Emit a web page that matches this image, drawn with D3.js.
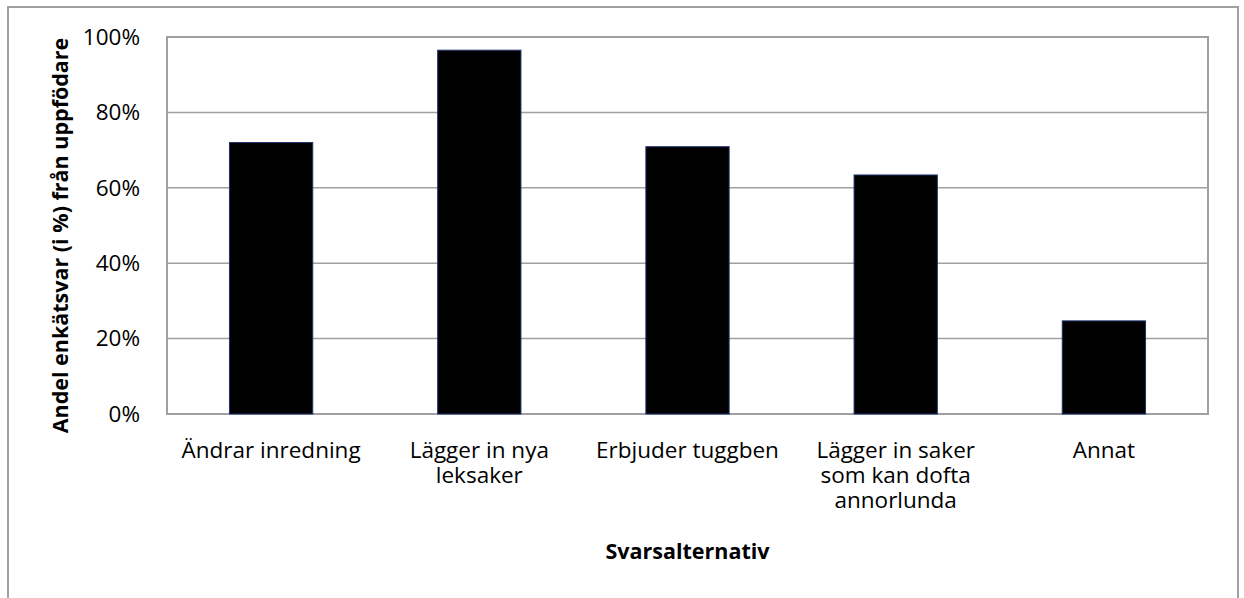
<!DOCTYPE html>
<html>
<head>
<meta charset="utf-8">
<script src="https://cdn.jsdelivr.net/npm/d3@7"></script>
<style>
  body { margin: 0; background: #fff; }
  text { font-family: "Open Sans", Lato, sans-serif; fill: #000; }
  .tick-label { font-size: 22.5px; }
  .axis-title { font-size: 21.5px; font-weight: bold; }
</style>
</head>
<body>
<svg id="chart" width="1244" height="598"></svg>
<script>
// data
const categories = [
  ["Ändrar inredning"],
  ["Lägger in nya", "leksaker"],
  ["Erbjuder tuggben"],
  ["Lägger in saker", "som kan dofta", "annorlunda"],
  ["Annat"]
];
const shares = [0.72, 0.965, 0.709, 0.634, 0.247];
const yTicks = [0, 0.2, 0.4, 0.6, 0.8, 1.0];
const xTitle = "Svarsalternativ";
const yTitle = "Andel enkätsvar (i %) från uppfödare";

const svg = d3.select('#chart');

// outer chart frame
svg.append('rect')
  .attr('x', 8).attr('y', 7)
  .attr('width', 1230).attr('height', 620)
  .attr('fill', 'none')
  .attr('stroke', '#a0a0a0')
  .attr('stroke-width', 2);

const plotLeft = 167, plotRight = 1208, plotTop = 37, plotBottom = 414;

const xScale = d3.scaleBand()
  .domain(d3.range(categories.length))
  .range([plotLeft, plotRight])
  .paddingInner(0.6)
  .paddingOuter(0.3);

const yScale = d3.scaleLinear()
  .domain([0, 1])
  .range([plotBottom, plotTop]);

// grid lines
svg.append('g')
  .selectAll('line')
  .data(yTicks)
  .enter()
  .append('line')
  .attr('x1', plotLeft).attr('x2', plotRight)
  .attr('y1', d => yScale(d)).attr('y2', d => yScale(d))
  .attr('stroke', '#a0a0a0')
  .attr('stroke-width', 1.5);

// plot frame
svg.append('rect')
  .attr('x', plotLeft).attr('y', plotTop)
  .attr('width', plotRight - plotLeft).attr('height', plotBottom - plotTop)
  .attr('fill', 'none')
  .attr('stroke', '#a0a0a0')
  .attr('stroke-width', 2);

// bars
svg.append('g')
  .selectAll('rect')
  .data(shares)
  .enter()
  .append('rect')
  .attr('x', (d, i) => xScale(i))
  .attr('y', d => yScale(d))
  .attr('width', xScale.bandwidth())
  .attr('height', d => plotBottom - yScale(d))
  .attr('fill', '#000')
  .attr('stroke', '#1f3470')
  .attr('stroke-width', 1);

// y tick labels
svg.append('g')
  .selectAll('text')
  .data(yTicks)
  .enter()
  .append('text')
  .attr('class', 'tick-label')
  .attr('x', 140)
  .attr('y', d => yScale(d))
  .attr('dy', '0.35em')
  .attr('text-anchor', 'end')
  .text(d => d3.format('.0%')(d));

// x category labels
const catLabels = svg.append('g')
  .selectAll('text')
  .data(categories)
  .enter()
  .append('text')
  .attr('class', 'tick-label')
  .attr('text-anchor', 'middle')
  .attr('x', (d, i) => xScale(i) + xScale.bandwidth() / 2)
  .attr('y', 458);

catLabels.selectAll('tspan')
  .data(d => d)
  .enter()
  .append('tspan')
  .attr('x', function () { return d3.select(this.parentNode).attr('x'); })
  .attr('dy', (d, i) => i === 0 ? 0 : 25)
  .text(d => d);

// axis titles
svg.append('text')
  .attr('class', 'axis-title')
  .attr('x', (plotLeft + plotRight) / 2)
  .attr('y', 559)
  .attr('text-anchor', 'middle')
  .text(xTitle);

svg.append('text')
  .attr('class', 'axis-title')
  .attr('transform', `translate(68, ${(plotTop + plotBottom) / 2 + 10}) rotate(-90)`)
  .attr('text-anchor', 'middle')
  .text(yTitle);
</script>
</body>
</html>
